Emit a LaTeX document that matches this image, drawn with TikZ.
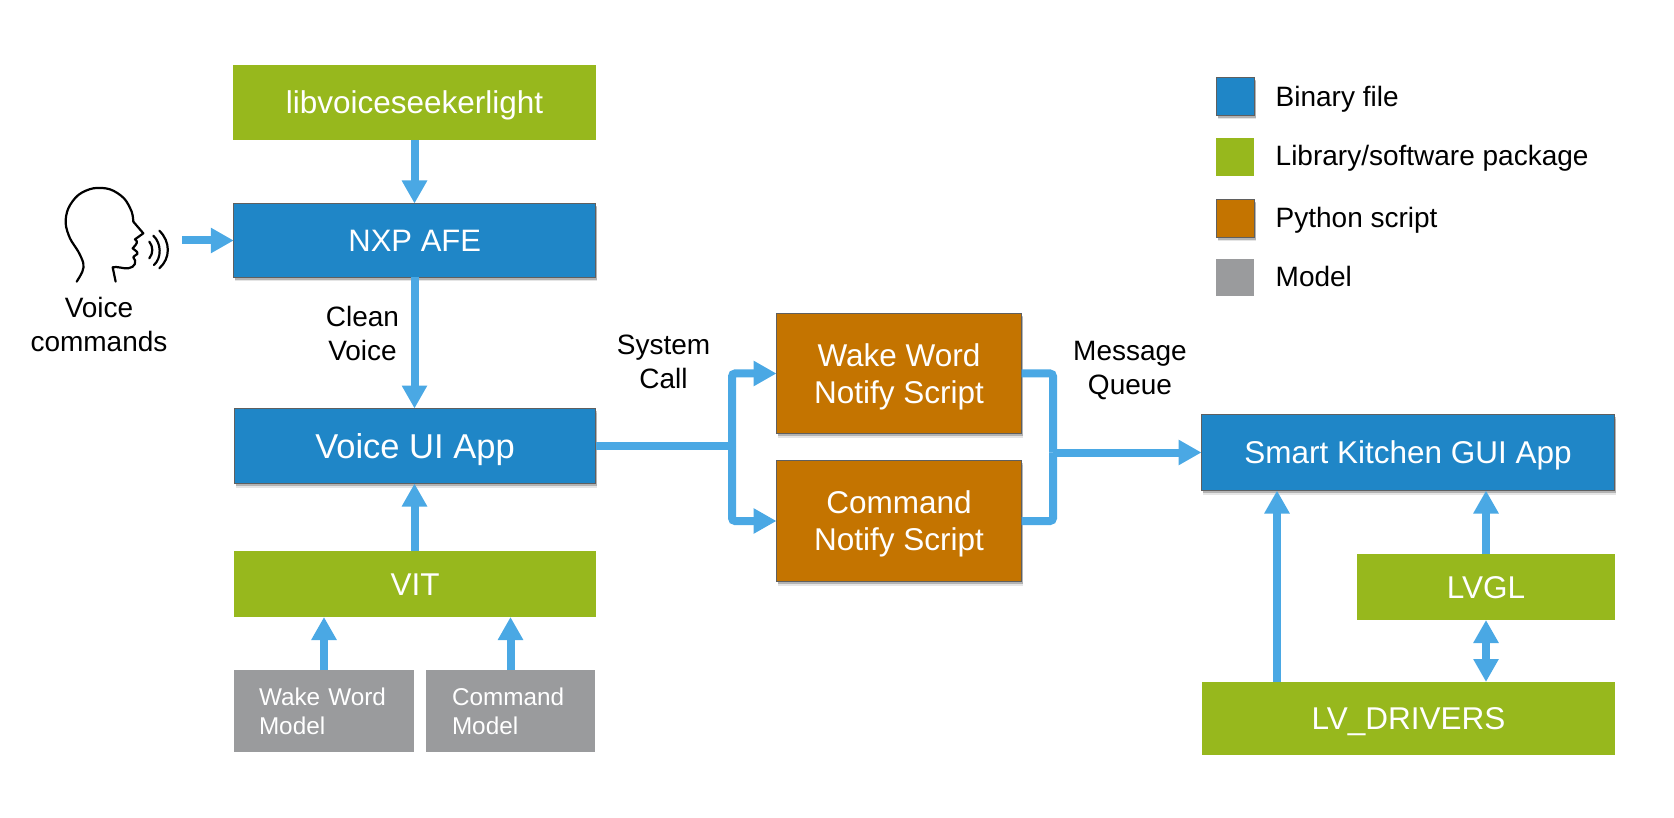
\documentclass[tikz,border=0pt]{standalone}
\usepackage{fontspec}
\setmainfont{Liberation Sans}
\usetikzlibrary{arrows.meta,shadows}
\definecolor{cblue}{HTML}{1F86C7}
\definecolor{cgreen}{HTML}{97B81D}
\definecolor{corange}{HTML}{C47400}
\definecolor{cgray}{HTML}{9A9B9D}
\definecolor{cflow}{HTML}{4AA8E4}
\definecolor{cedge}{HTML}{5F5F5F}
\newcommand{\capmid}{\rule[-.35em]{0pt}{1.416em}}
\newcommand{\toppad}{\rule{0pt}{29pt}}
\tikzset{
  boxbase/.style={rectangle,inner sep=0pt,outer sep=0pt,text=white,align=center,font=\fontsize{31.5}{37}\selectfont},
  shadowed/.style={draw=cedge,line width=1pt,
    preaction={drop shadow={shadow xshift=1pt,shadow yshift=-4pt,opacity=.10,fill=black}},
    drop shadow={shadow xshift=1pt,shadow yshift=-2.5pt,opacity=.22,fill=black}},
  binbox/.style={boxbase,shadowed,fill=cblue},
  scriptbox/.style={boxbase,shadowed,fill=corange},
  libbox/.style={boxbase,fill=cgreen},
  modelbox/.style={boxbase,fill=cgray,align=left,font=\fontsize{24.3}{29}\selectfont},
  legtext/.style={anchor=base west,inner sep=0pt,font=\fontsize{28}{33}\selectfont,text=black},
  plain/.style={inner sep=0pt,align=center,font=\fontsize{28}{34}\selectfont,text=black},
  flow/.style={draw=cflow,line width=8pt,rounded corners=3pt,-{Triangle[length=23pt,width=24pt]}},
  flowboth/.style={draw=cflow,line width=8pt,{Triangle[length=23pt,width=24pt]}-{Triangle[length=23pt,width=24pt]}},
  flownotip/.style={draw=cflow,line width=8pt,rounded corners=3pt},
  headline/.style={draw=black,line width=2.2pt,line cap=round,line join=round}
}
\begin{document}
\begin{tikzpicture}[x=1pt,y=-1pt]
\useasboundingbox (0,0) rectangle (1674,818);
% boxes
\node[libbox,minimum width=363pt,minimum height=75pt] (lib) at (414.5,102.5) {\capmid libvoiceseekerlight};
\node[binbox,minimum width=362pt,minimum height=74pt] (nxp) at (414.75,240.5) {\fontsize{31}{37}\selectfont\capmid NXP AFE};
\node[binbox,minimum width=361pt,minimum height=75pt] (voice) at (415,446) {\fontsize{34.5}{40}\selectfont\capmid Voice UI App};
\node[libbox,minimum width=362pt,minimum height=66pt] (vit) at (415,584) {\capmid VIT};
\node[modelbox,minimum height=82pt,inner xsep=25pt,text width=130pt] (wm) at (324,711) {Wake Word\\Model};
\node[modelbox,minimum height=82pt,inner xsep=26pt,text width=117pt] (cm) at (510.5,711) {Command\\Model};
\node[scriptbox,minimum width=245pt,minimum height=120pt] (wake) at (899,373.5) {\toppad Wake Word\\Notify Script};
\node[scriptbox,minimum width=245pt,minimum height=121pt] (cmd) at (899,521) {\toppad Command\\Notify Script};
\node[binbox,minimum width=413pt,minimum height=76pt] (smart) at (1408,452.5) {\capmid Smart Kitchen GUI App};
\node[libbox,minimum width=258pt,minimum height=66pt] (lvgl) at (1486,587) {\capmid LVGL};
\node[libbox,minimum width=413pt,minimum height=73pt] (lvd) at (1408.5,718.5) {\capmid LV\_DRIVERS};
% free coordinates
\coordinate (col) at (414.5,0);
\coordinate (hd) at (182,240.5);
\coordinate (j1) at (732,446);
\coordinate (j2) at (1053,452.5);
\coordinate (c1) at (1277,682);
% connectors
\draw[flow] (col |- lib.south) -- (col |- nxp.north);
\draw[flow] (hd) -- (nxp.west);
\draw[flow] (col |- nxp.south) -- (col |- voice.north);
\draw[flow] (col |- vit.north) -- (col |- voice.south);
\draw[flow] (wm.north) -- (wm.north |- vit.south);
\draw[flow] (cm.north) -- (cm.north |- vit.south);
\draw[flownotip] (voice.east) -- (j1);
\draw[flow] (j1) |- (wake.west);
\draw[flow] (j1) |- (cmd.west);
\draw[flownotip] (wake.east) -| (j2);
\draw[flownotip] (cmd.east) -| (j2);
\draw[flow] (j2) -- (smart.west);
\draw[flow] (c1) -- (c1 |- smart.south);
\draw[flow] (lvgl.north) -- (lvgl.north |- smart.south);
\draw[flowboth] (lvgl.south) -- (lvgl.south |- lvd.north);
% labels
\node[plain] (lvoice) at (99,324) {Voice\\commands};
\node[plain] (lclean) at (362.5,333) {Clean\\Voice};
\node[plain] (lsys) at (663.5,362) {System\\Call};
\node[plain] (lmsg) at (1130,371) {Message\\Queue};
% legend
\node[rectangle,inner sep=0pt,minimum size=38pt,fill=cblue,shadowed] (k1) at (1235.5,96.5) {};
\node[rectangle,inner sep=0pt,minimum size=38pt,fill=cgreen] (k2) at (1235,157) {};
\node[rectangle,inner sep=0pt,minimum size=38pt,fill=corange,shadowed] (k3) at (1235.5,218.5) {};
\node[rectangle,inner sep=0pt,minimum width=38pt,minimum height=37pt,fill=cgray] (k4) at (1235,277.5) {};
\node[legtext] (t1) at (1275.5,107) {Binary file};
\node[legtext] (t2) at (1275.5,166) {Library/software package};
\node[legtext] (t3) at (1275.5,228) {Python script};
\node[legtext] (t4) at (1275.5,287) {Model};
% speaking head
\begin{scope}[shift={(50,180)},x=0.3333pt,y=-0.3333pt]
\draw[headline] plot[smooth,tension=0.55] coordinates {(80,305) (97,275) (100,250) (85,215) (60,175) (47,130) (55,85) (85,45) (130,25) (180,28) (222,55) (245,95) (250,125)};
\draw[headline] (250,125) -- (280,160) -- (255,178) .. controls (265,185) and (262,190) .. (248,205) .. controls (255,212) and (265,215) .. (262,222) .. controls (255,228) and (248,230) .. (250,232) .. controls (262,245) and (255,262) .. (235,265) .. controls (222,267) and (200,258) .. (188,262) -- (197,305);
\draw[headline] (298,185) .. controls (310,200) and (310,220) .. (298,235);
\draw[headline] (310,167) .. controls (335,190) and (335,235) .. (312,255);
\draw[headline] (328,152) .. controls (362,185) and (362,235) .. (328,265);
\end{scope}
\end{tikzpicture}
\end{document}
